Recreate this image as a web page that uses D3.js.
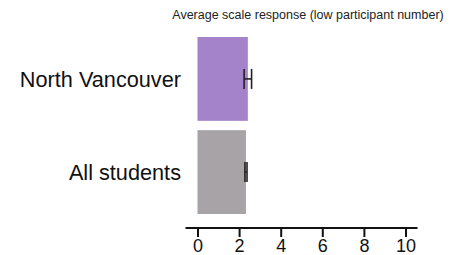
<!DOCTYPE html>
<html>
<head>
<meta charset="utf-8">
<script src="https://cdn.jsdelivr.net/npm/d3@7"></script>
<style>
body { margin: 0; background: #fff; }
text { font-family: "Liberation Sans", Arial, sans-serif; }
</style>
</head>
<body>
<script>
var width = 458, height = 255;

// data
var categories = ["North Vancouver", "All students"];
var means = [2.42, 2.33];
var errors = [0.18, 0.05];
var barColors = ["#a583ca", "#a8a3a7"];
var ticks = [0, 2, 4, 6, 8, 10];

var rows = categories.map(function(c, i) {
    return {name: c, mean: means[i], err: errors[i], color: barColors[i]};
});

var svg = d3.select("body").append("svg")
            .attr("width", width).attr("height", height);

var x = d3.scaleLinear().domain([0, 10]).range([197.5, 405.5]);
var y = d3.scaleBand().domain(categories).range([37, 214]).paddingInner(0.1).paddingOuter(0);

// title
svg.append("text")
   .attr("x", 308).attr("y", 19)
   .attr("text-anchor", "middle")
   .attr("font-size", 12.5)
   .attr("fill", "#222")
   .text("Average scale response (low participant number)");

// bars
svg.append("g").selectAll("rect").data(rows).enter().append("rect")
   .attr("x", x(0))
   .attr("y", function(d) { return y(d.name); })
   .attr("width", function(d) { return x(d.mean) - x(0); })
   .attr("height", y.bandwidth())
   .attr("fill", function(d) { return d.color; });

// error bars
var eb = svg.append("g").selectAll("g").data(rows).enter().append("g")
            .attr("stroke", "#222").attr("stroke-width", 1.6);
eb.append("line")
  .attr("x1", function(d) { return x(d.mean - d.err); })
  .attr("x2", function(d) { return x(d.mean + d.err); })
  .attr("y1", function(d) { return y(d.name) + y.bandwidth() / 2; })
  .attr("y2", function(d) { return y(d.name) + y.bandwidth() / 2; });
eb.selectAll(".cap").data(function(d) {
      return [d.mean - d.err, d.mean + d.err].map(function(v) { return {v: v, name: d.name}; });
  }).enter().append("line").attr("class", "cap")
  .attr("x1", function(d) { return x(d.v); })
  .attr("x2", function(d) { return x(d.v); })
  .attr("y1", function(d) { return y(d.name) + y.bandwidth() / 2 - 10; })
  .attr("y2", function(d) { return y(d.name) + y.bandwidth() / 2 + 10; });

// category labels
svg.append("g").selectAll("text").data(rows).enter().append("text")
   .attr("x", 181)
   .attr("y", function(d) { return y(d.name) + y.bandwidth() / 2 + 8; })
   .attr("text-anchor", "end")
   .attr("font-size", 21.7)
   .attr("fill", "#111")
   .text(function(d) { return d.name; });

// x axis
var axis = svg.append("g").attr("transform", "translate(0,228)")
              .call(d3.axisBottom(x).tickValues(ticks).tickSize(9).tickSizeOuter(0).tickPadding(2));
axis.select(".domain").remove();
axis.append("line")
    .attr("x1", x(0) - 12).attr("x2", x(10) + 12)
    .attr("stroke", "#111").attr("stroke-width", 2.2);
axis.selectAll(".tick line").attr("stroke", "#111").attr("stroke-width", 2);
axis.selectAll(".tick text")
    .attr("font-size", 18)
    .attr("font-family", "'Liberation Sans', Arial, sans-serif")
    .attr("fill", "#111");
</script>
</body>
</html>
